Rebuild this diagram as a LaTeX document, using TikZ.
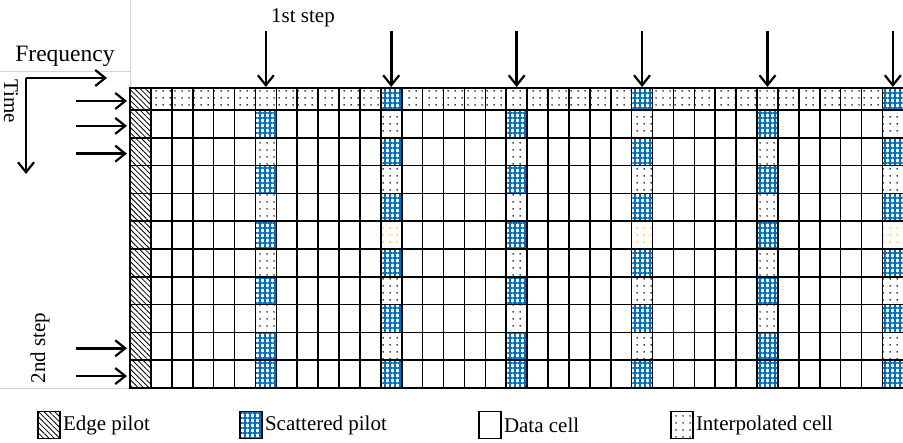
\documentclass[tikz,border=0pt]{standalone}
\usepackage{fontspec}
\setmainfont{Liberation Serif}
\usetikzlibrary{arrows.meta,patterns.meta,positioning}
\definecolor{pilotblue}{RGB}{0,112,192}
\definecolor{interpyellow}{RGB}{255,192,0}
\tikzset{
  cell/.style={draw, line width=1.6pt, inner sep=0pt, outer sep=0pt,
    anchor=north west, minimum width=20.9pt},
  kind0/.style={},
  kind1/.style={pattern={Lines[angle=-45,distance=3.8pt,line width=0.8pt]}, pattern color=black},
  kind2/.style={pattern={Hatch[distance=5pt,line width=1.2pt]}, pattern color=pilotblue},
  kind3/.style={pattern={Dots[distance=6.5pt,radius=0.9pt]}, pattern color=black},
  kind4/.style={pattern={Dots[distance=6.5pt,radius=0.9pt]}, pattern color=interpyellow},
  legbox/.style={draw, line width=1.6pt, inner sep=0pt, minimum width=22pt, minimum height=27pt},
  legtext/.style={inner sep=2pt, anchor=west},
  arr/.style={-{Straight Barb[length=10pt,width=16pt,line width=2.2pt]}, line width=2.5pt},
  faint/.style={gray!35, line width=0.6pt}
}
\begin{document}
\begin{tikzpicture}[x=1pt, y=-1pt, font=\fontsize{21}{25}\selectfont]
\useasboundingbox[fill=white] (0,0) rectangle (903,443);
% faint table lines
\draw[faint] (130,0) -- (130,88);
\draw[faint] (0,71) -- (130,71);
\draw[faint] (0,388) -- (130,388);
% grid of cells
\foreach \c in {0,...,36}{
  \foreach \r in {0,...,10}{
    \pgfmathtruncatemacro\k{\c/6}
    \pgfmathtruncatemacro\t{\c==0 ? 1 : (mod(\c,6)==0 ? ((\r==10 || mod(\r+\k,2)==0) ? 2 : (\r==5 ? 4 : 3)) : (\r==0 ? 3 : 0))}
    \pgfmathsetmacro\h{\r==0 ? 22 : 27.8}
    \pgfmathsetmacro\y{\r==0 ? 88 : 110+(\r-1)*27.8}
    \edef\kind{kind\t}
    \node[cell, \kind, minimum height=\h pt] (c-\c-\r) at ({130+\c*20.9},\y) {};
  }
}
% axes
\coordinate (o) at (26,78);
\coordinate (fx) at (107,78);
\coordinate (ty) at (26,174);
\draw[arr] (o) -- (fx);
\draw[arr] (o) -- (ty);
\node[font=\fontsize{23.5}{27}\selectfont] (freq) at (65,56) {Frequency};
\node[rotate=-90] (time) at (11,101) {Time};
\node (step1) at (303,18) {1st step};
\node[rotate=90] (step2) at (40,348) {2nd step};
% 1st step arrows
\foreach \k [evaluate=\k as \col using int(6*\k)] in {1,...,6}{
  \coordinate (t\k) at ({130+(6*\k+0.5)*20.9},31);
  \draw[arr, shorten >=1pt] (t\k) -- (c-\col-0.north);
}
% 2nd step arrows
\foreach \r in {0,1,2,9,10}{
  \coordinate (l\r) at (76,0 |- c-0-\r.west);
  \draw[arr, shorten >=3pt] ([yshift=-2pt]l\r) -- ([yshift=-2pt]c-0-\r.west);
}
% legend
\node[legbox, kind1] (lg-edge) at (49,425) {};
\node[legtext, right=0pt of lg-edge] (lt-edge) {Edge pilot};
\node[legbox, kind2] (lg-pilot) at (251,425) {};
\node[legtext, right=0pt of lg-pilot] (lt-pilot) {Scattered pilot};
\node[legbox, kind0] (lg-data) at (490,425) {};
\node[legtext, right=0pt of lg-data] (lt-data) {Data cell};
\node[legbox, kind3] (lg-interp) at (682,425) {};
\node[legtext, right=0pt of lg-interp] (lt-interp) {Interpolated cell};
\end{tikzpicture}
\end{document}
